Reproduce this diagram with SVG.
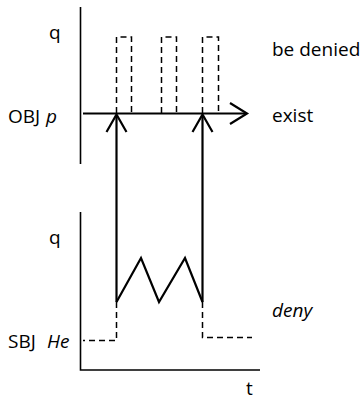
<svg xmlns="http://www.w3.org/2000/svg" width="361" height="400" viewBox="0 0 361 400">
<style>
text{font-family:"Open Sans","Liberation Sans",sans-serif;font-size:19px;fill:#000}
.it{font-style:italic}
.axis{stroke:#000;stroke-width:1.6;fill:none}
.thick{stroke:#000;stroke-width:2.2;fill:none;stroke-linejoin:miter}
.dash{stroke:#000;stroke-width:1.5;fill:none;stroke-dasharray:6 4}
</style>
<rect width="361" height="400" fill="#fff"/>
<g id="upper-axis">
<line class="axis" x1="80.5" y1="7" x2="80.5" y2="164"/>
<text x="49" y="39">q</text>
<text x="8" y="123">OBJ</text>
<text class="it" x="46" y="123">p</text>
</g>
<g id="be-denied">
<path class="dash" d="M116.5,113 V37 H131.5 V113"/>
<path class="dash" d="M161.5,113 V37 H176.5 V113"/>
<path class="dash" d="M202.5,113 V37 H218.5 V113"/>
<text x="272" y="56">be denied</text>
</g>
<g id="exist">
<line class="thick" x1="83" y1="113.5" x2="246" y2="113.5"/>
<polyline class="thick" points="230,103 247,113.5 230,124"/>
<text x="272" y="122">exist</text>
</g>
<g id="lower-axis">
<polyline class="axis" points="80.5,212 80.5,370 260,370"/>
<text x="49" y="244">q</text>
<text x="8" y="348">SBJ</text>
<text class="it" x="47" y="348">He</text>
<text x="246" y="395">t</text>
</g>
<g id="deny">
<polyline class="thick" points="116.5,302 141,258 159,302 185,258 202.5,302"/>
<path class="dash" d="M116.5,302 V340.5 H83"/>
<path class="dash" d="M202.5,302 V337.5 H252"/>
<text class="it" x="272" y="317">deny</text>
</g>
<g id="connectors">
<line class="thick" x1="116.5" y1="302" x2="116.5" y2="116"/>
<polyline class="thick" points="106.5,132 116.5,114.5 126.5,132"/>
<line class="thick" x1="202.5" y1="302" x2="202.5" y2="116"/>
<polyline class="thick" points="192.5,132 202.5,114.5 212.5,132"/>
</g>
</svg>
